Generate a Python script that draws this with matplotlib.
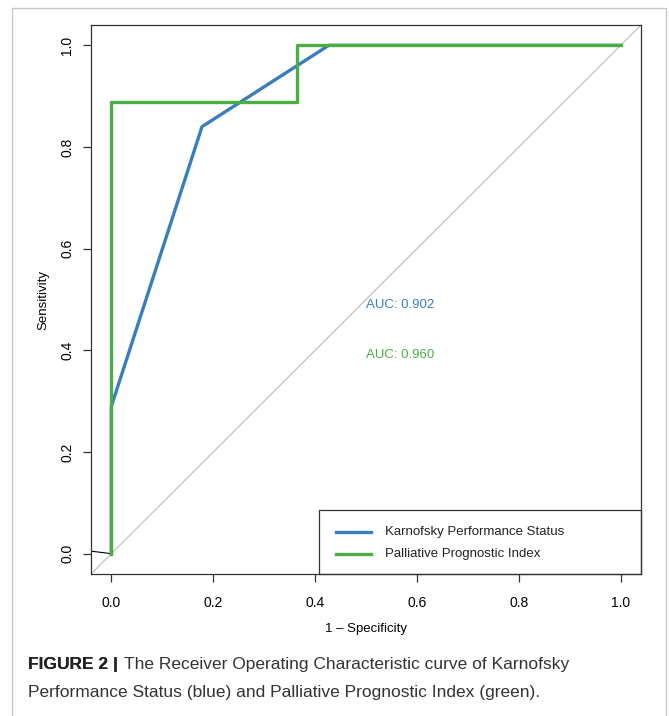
import matplotlib
matplotlib.use("Agg")
import matplotlib.pyplot as plt
from matplotlib.patches import Rectangle

plt.rcParams["font.family"] = ["Liberation Sans", "DejaVu Sans"]

# ROC curves (1 - specificity, sensitivity)
kps_fpr = [0.0, 0.0, 0.178, 0.427, 1.0]
kps_tpr = [0.0, 0.29, 0.84, 1.0, 1.0]
ppi_fpr = [0.0, 0.0, 0.364, 0.364, 1.0]
ppi_tpr = [0.0, 0.889, 0.889, 1.0, 1.0]
auc_kps = 0.902
auc_ppi = 0.960
names = ["Karnofsky Performance Status", "Palliative Prognostic Index"]
ticks = [0.0, 0.2, 0.4, 0.6, 0.8, 1.0]

BLUE = "#3a7dbf"
GREEN = "#4aae44"
BOX = "#333333"

fig = plt.figure(figsize=(6.69, 7.16), dpi=100)
# outer frame
fig.add_artist(Rectangle((12 / 669, -0.01), 654 / 669, 1 - 8 / 716 + 0.01,
                         transform=fig.transFigure, fill=False,
                         ec="#c8c8c8", lw=1.0))

ax = fig.add_axes([91 / 669, 1 - 574 / 716, 550 / 669, 549 / 716])
ax.set_xlim(-0.04, 1.04)
ax.set_ylim(-0.04, 1.04)
for s in ax.spines.values():
    s.set_color(BOX)
    s.set_linewidth(0.9)

ax.plot([-0.04, 1.04], [-0.04, 1.04], color="#bbbbbb", lw=0.8, zorder=1)
ax.plot([-0.04, 0.0], [0.005, 0.0], color="black", lw=0.8, zorder=2)
ax.plot(kps_fpr, kps_tpr, color=BLUE, lw=2.4, zorder=3)
ax.plot(ppi_fpr, ppi_tpr, color=GREEN, lw=2.4, zorder=4)

ax.text(0.5, 0.49, f"AUC: {auc_kps:.3f}", color=BLUE, fontsize=9.5,
        ha="left", va="center")
ax.text(0.5, 0.39, f"AUC: {auc_ppi:.3f}", color=GREEN, fontsize=9.5,
        ha="left", va="center")

ax.set_xticks(ticks)
ax.set_yticks(ticks)
ax.set_xticklabels([f"{t:.1f}" for t in ticks], fontsize=10)
ax.set_yticklabels([f"{t:.1f}" for t in ticks], fontsize=10, rotation=90,
                   va="center")
ax.tick_params(direction="out", length=6, width=0.9, color=BOX)
ax.tick_params(axis="x", pad=10)
ax.tick_params(axis="y", pad=6)
ax.set_xlabel("1 \u2013 Specificity", fontsize=9.5, labelpad=9)
ax.set_ylabel("Sensitivity", fontsize=9.5, labelpad=8)

# R-style legend box anchored to the lower-right corner
ax.add_patch(Rectangle((0.408, -0.04), 1.04 - 0.408, 0.1266, fill=False,
                       ec=BOX, lw=0.9, zorder=5, clip_on=False))
for yy, c, name in zip([0.042, 0.0], [BLUE, GREEN], names):
    ax.plot([0.441, 0.510], [yy, yy], color=c, lw=2.4, zorder=6)
    ax.text(0.537, yy, name, fontsize=9.5, ha="left", va="center",
            color="#222222", zorder=6)

bold = fig.text(28 / 669, 1 - 665 / 716, "FIGURE 2 |", fontsize=12.5,
                fontweight="bold", va="center", ha="left", color="#222222")
fig.add_artist(bold)
ax.annotate("The Receiver Operating Characteristic curve of Karnofsky",
            xy=(1, 0.5), xycoords=bold, xytext=(4, 0),
            textcoords="offset points", fontsize=12.5, va="center",
            ha="left", color="#333333", annotation_clip=False)
fig.text(28 / 669, 1 - 692 / 716,
         "Performance Status (blue) and Palliative Prognostic Index (green).",
         fontsize=12.5, va="center", ha="left", color="#333333")

fig.savefig("out.png", dpi=100)
